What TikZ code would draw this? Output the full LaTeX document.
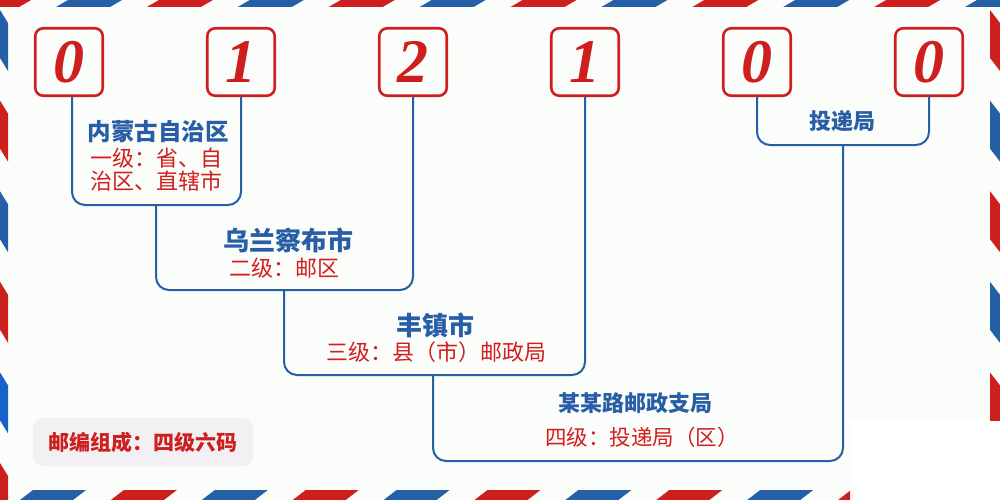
\documentclass[tikz,border=0pt]{standalone}
\usepackage{fontspec}
\setmainfont{Liberation Serif}
\newfontfamily\cjk{Noto Sans CJK SC}
\newfontfamily\digitfont{Liberation Serif}
\definecolor{bgc}{RGB}{251,253,251}
\definecolor{ared}{RGB}{206,31,31}
\definecolor{ablue}{RGB}{37,95,165}
\definecolor{abluetwo}{RGB}{22,98,200}
\definecolor{tblue}{RGB}{40,94,166}
\definecolor{tred}{RGB}{210,30,30}
\definecolor{gfill}{RGB}{243,240,244}
\begin{document}
\begin{tikzpicture}[x=1pt,y=-1pt,
  digitbox/.style={draw=ared, line width=2.6pt, rounded corners=8pt, minimum width=67.5pt, minimum height=67.5pt, inner sep=0pt, text=ared, font=\digitfont\bfseries\itshape\fontsize{62}{62}\selectfont},
  conn/.style={draw=ablue, line width=2pt, rounded corners=13pt},
  lvltitle/.style={text=tblue, inner sep=0pt, font=\cjk\bfseries\fontsize{#1}{#1}\selectfont},
  lvlnote/.style={text=tred, inner sep=0pt, font=\cjk\fontsize{#1}{#1}\selectfont},
  legendbox/.style={fill=gfill, rounded corners=10pt, minimum width=220pt, minimum height=48pt, inner sep=0pt, text=ared, font=\cjk\bfseries\fontsize{21}{21}\selectfont}
]
\useasboundingbox (0,0) rectangle (1000,500);
\fill[bgc] (0,0) rectangle (1000,500);
\fill[white] (850,420) rectangle (1000,500);
% top stripes
\begin{scope}
  \clip (0,0) rectangle (1000,7);
  \foreach \j in {0,...,5} \fill[ablue] ({68+181.8*\j},0) -- ++(54,0) -- ++(-12,7) -- ++(-54,0) -- cycle;
  \foreach \j in {-1,...,5} \fill[ared] ({158.9+181.8*\j},0) -- ++(54,0) -- ++(-12,7) -- ++(-54,0) -- cycle;
\end{scope}
% bottom stripes
\begin{scope}
  \clip (0,490) rectangle (850,500);
  \foreach \j in {0,...,4} \fill[ablue] ({20+181.8*\j},500) -- ++(53,0) -- ++(13,-10) -- ++(-53,0) -- cycle;
  \foreach \j in {0,...,4} \fill[ared] ({110.9+181.8*\j},500) -- ++(53,0) -- ++(13,-10) -- ++(-53,0) -- cycle;
\end{scope}
% left stripes
\begin{scope}
  \clip (0,0) rectangle (8,500);
  \foreach \s in {10,191.2} \fill[ablue] (0,\s) -- ++(8,13) -- ++(0,48) -- ++(-8,-13) -- cycle;
  \fill[abluetwo] (0,372.4) -- ++(8,13) -- ++(0,48) -- ++(-8,-13) -- cycle;
  \foreach \s in {100.6,281.8,463} \fill[ared] (0,\s) -- ++(8,13) -- ++(0,48) -- ++(-8,-13) -- cycle;
\end{scope}
% right stripes
\begin{scope}
  \clip (990,0) rectangle (1000,420);
  \foreach \s in {10,191.2,372.4} \fill[ared] (990,\s) -- ++(10,13) -- ++(0,48) -- ++(-10,-13) -- cycle;
  \foreach \s in {100.6,281.8} \fill[ablue] (990,\s) -- ++(10,13) -- ++(0,48) -- ++(-10,-13) -- cycle;
\end{scope}
% digit boxes
\node[digitbox] (d1) at (69,62) {0};
\node[digitbox] (d2) at (241,62) {1};
\node[digitbox] (d3) at (413,62) {2};
\node[digitbox] (d4) at (585,62) {1};
\node[digitbox] (d5) at (757,62) {0};
\node[digitbox] (d6) at (929,62) {0};
% bracket joints
\coordinate (b1) at (156,205);
\coordinate (b2) at (284,290);
\coordinate (b3) at (433,375);
\coordinate (b4) at (638,461);
\coordinate (b5) at (843,145);
% connectors
\draw[conn] ([xshift=3pt]d1.south) |- (b1) -| (d2.south);
\draw[conn] (b1) |- (b2) -| (d3.south);
\draw[conn] (b2) |- (b3) -| (d4.south);
\draw[conn] (d5.south) |- (b5) -| (d6.south);
\draw[conn] (b3) |- (b4) -| (b5);
% labels
\node[lvltitle=23.5] (t1) at (158,132) {内蒙古自治区};
\node[lvlnote=22] (n1a) at (156,158) {一级：省、自};
\node[lvlnote=22] (n1b) at (156,181) {治区、直辖市};
\node[lvltitle=26] (t2) at (288,240) {乌兰察布市};
\node[lvlnote=22] (n2) at (284,268) {二级：邮区};
\node[lvltitle=26] (t3) at (435,325) {丰镇市};
\node[lvlnote=22] (n3) at (436,352) {三级：县（市）邮政局};
\node[lvltitle=22] (t4) at (635,403) {某某路邮政支局};
\node[lvlnote=21.5] (n4) at (642,437) {四级：投递局（区）};
\node[lvltitle=22] (t5) at (842,121) {投递局};
\node[legendbox] (lg) at (143,442) {邮编组成：四级六码};
\end{tikzpicture}
\end{document}
